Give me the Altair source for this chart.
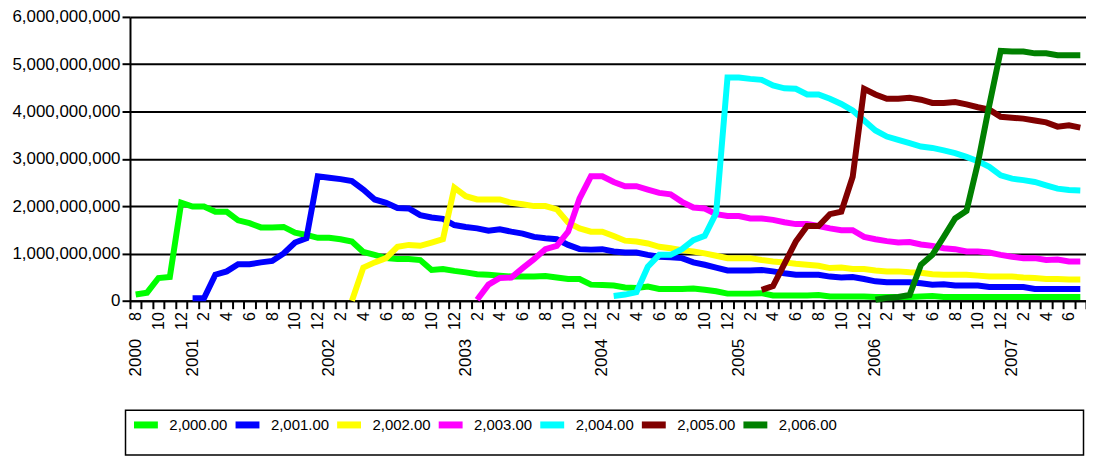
import altair as alt
import pandas as pd

# ---- data (values read in billions) ----
SCALE = 1e9
series_names = ["2,000.00", "2,001.00", "2,002.00", "2,003.00", "2,004.00", "2,005.00", "2,006.00"]
series_colors = ["#00FF00", "#0000FF", "#FFFF00", "#FF00FF", "#00FFFF", "#800000", "#008000"]
series_start = [0, 5, 19, 30, 42, 55, 65]  # month index (0 = Aug 2000)

s2000 = [0.13, 0.17, 0.48, 0.50, 2.07, 1.99, 1.99, 1.88, 1.88, 1.70,
         1.64, 1.55, 1.55, 1.56, 1.44, 1.39, 1.33, 1.33, 1.30, 1.25,
         1.03, 0.97, 0.90, 0.88, 0.88, 0.86, 0.65, 0.67, 0.63, 0.60,
         0.56, 0.55, 0.53, 0.51, 0.51, 0.51, 0.52, 0.49, 0.46, 0.46,
         0.34, 0.33, 0.32, 0.28, 0.27, 0.30, 0.25, 0.25, 0.25, 0.26,
         0.23, 0.20, 0.15, 0.15, 0.15, 0.16, 0.11, 0.11, 0.11, 0.11,
         0.12, 0.09, 0.09, 0.09, 0.09, 0.08, 0.08, 0.08, 0.08, 0.09,
         0.10, 0.08, 0.08, 0.08, 0.08, 0.08, 0.08, 0.08, 0.08, 0.08,
         0.08, 0.08, 0.08, 0.08]
s2001 = [0.05, 0.05, 0.55, 0.62, 0.77,
         0.77, 0.81, 0.84, 1.00, 1.23, 1.32, 2.63, 2.60, 2.57, 2.53,
         2.35, 2.14, 2.07, 1.96, 1.95, 1.81, 1.76, 1.73, 1.60, 1.56,
         1.53, 1.48, 1.51, 1.46, 1.42, 1.35, 1.32, 1.30, 1.18, 1.09,
         1.08, 1.09, 1.04, 1.02, 1.02, 0.97, 0.93, 0.92, 0.90, 0.81,
         0.76, 0.70, 0.64, 0.64, 0.64, 0.65, 0.62, 0.58, 0.55, 0.55,
         0.55, 0.51, 0.49, 0.50, 0.46, 0.41, 0.39, 0.39, 0.39, 0.37,
         0.34, 0.35, 0.32, 0.32, 0.32, 0.29, 0.29, 0.29, 0.29, 0.25,
         0.25, 0.25, 0.25, 0.25]
s2002 = [0.00,
         0.70, 0.81, 0.90, 1.14, 1.18, 1.16, 1.23, 1.30, 2.39, 2.21,
         2.14, 2.14, 2.14, 2.07, 2.04, 2.00, 2.00, 1.93, 1.65, 1.53,
         1.46, 1.46, 1.37, 1.27, 1.25, 1.21, 1.14, 1.11, 1.07, 1.04,
         1.00, 0.95, 0.90, 0.90, 0.90, 0.86, 0.83, 0.81, 0.78, 0.76,
         0.74, 0.69, 0.70, 0.67, 0.67, 0.64, 0.62, 0.62, 0.60, 0.59,
         0.56, 0.55, 0.55, 0.55, 0.53, 0.51, 0.51, 0.51, 0.49, 0.48,
         0.46, 0.46, 0.45, 0.45]
s2003 = [0.02, 0.34, 0.48, 0.49, 0.69, 0.88, 1.09, 1.16, 1.46, 2.16,
         2.63, 2.63, 2.51, 2.42, 2.42, 2.35, 2.28, 2.25, 2.09, 1.97,
         1.95, 1.83, 1.79, 1.79, 1.74, 1.74, 1.71, 1.66, 1.62, 1.62,
         1.58, 1.53, 1.49, 1.49, 1.35, 1.30, 1.26, 1.23, 1.24, 1.19,
         1.16, 1.11, 1.09, 1.04, 1.04, 1.02, 0.97, 0.93, 0.90, 0.90,
         0.86, 0.87, 0.83, 0.83]
s2004 = [0.10, 0.13, 0.18, 0.72, 0.97, 0.97, 1.09, 1.28,
         1.37, 1.85, 4.72, 4.72, 4.69, 4.67, 4.55, 4.49, 4.48, 4.36,
         4.36, 4.27, 4.16, 4.02, 3.81, 3.60, 3.47, 3.40, 3.33, 3.26,
         3.23, 3.18, 3.12, 3.04, 2.95, 2.83, 2.65, 2.58, 2.55, 2.51,
         2.44, 2.37, 2.34, 2.33]
s2005 = [0.23, 0.31, 0.78, 1.25, 1.58,
         1.58, 1.83, 1.88, 2.62, 4.48, 4.36, 4.27, 4.27, 4.29, 4.25,
         4.18, 4.18, 4.20, 4.15, 4.09, 4.04, 3.89, 3.87, 3.85, 3.81,
         3.77, 3.68, 3.71, 3.66]
s2006 = [0.02, 0.06, 0.08, 0.12, 0.76,
         0.97, 1.35, 1.74, 1.90, 2.91, 4.13, 5.28, 5.27, 5.27, 5.23,
         5.23, 5.19, 5.19, 5.19]
series_values = [s2000, s2001, s2002, s2003, s2004, s2005, s2006]

year_labels = ["2000", "2001", "2002", "2003", "2004", "2005", "2006", "2007"]
year_index = [0, 5, 17, 29, 41, 53, 65, 77]

N_MONTHS = 84
y_ticks = [0, 1e9, 2e9, 3e9, 4e9, 5e9, 6e9]

rows = []
for name, start, vals in zip(series_names, series_start, series_values):
    for k, v in enumerate(vals):
        rows.append({"series": name, "idx": start + k, "value": v * SCALE})
df = pd.DataFrame(rows)
years_df = pd.DataFrame({"idx": year_index, "year": year_labels})

W, H = 960, 285
STEP = W / N_MONTHS
FONT = "Liberation Sans"

xscale = alt.Scale(domain=[-0.5, N_MONTHS - 0.5], nice=False, zero=False)
tick_vals = [i - 0.5 for i in range(N_MONTHS + 1)]
label_expr = ("round(datum.value + 0.5) > 83 ? '' : "
              "((round(datum.value + 0.5) + 7) % 12 + 1) % 2 == 0 ? "
              "'' + ((round(datum.value + 0.5) + 7) % 12 + 1) : ''")

lines = alt.Chart(df).mark_line(strokeWidth=6, clip=False).encode(
    x=alt.X("idx:Q", scale=xscale,
            axis=alt.Axis(values=tick_vals, tickCount=200, labelExpr=label_expr,
                          labelAngle=270, labelAlign="right", labelBaseline="middle",
                          labelOffset=STEP / 2, labelFlush=False, labelOverlap=False,
                          labelFontSize=16, labelPadding=3, labelColor="black",
                          tickSize=8, tickWidth=2, tickColor="black",
                          domainColor="black", domainWidth=2, grid=False, title=None)),
    y=alt.Y("value:Q", scale=alt.Scale(domain=[0, 6e9], nice=False),
            axis=alt.Axis(values=y_ticks, format=",d", grid=True, gridColor="black",
                          gridWidth=2, domainColor="black", domainWidth=2,
                          tickColor="black", tickWidth=2, tickSize=8,
                          labelFontSize=17, labelColor="black", labelPadding=2,
                          title=None)),
    color=alt.Color("series:N",
                    scale=alt.Scale(domain=series_names, range=series_colors),
                    legend=alt.Legend(orient="none", legendX=0.5, legendY=394,
                                      direction="horizontal", columns=7, title=None,
                                      symbolType="stroke", symbolStrokeWidth=7,
                                      symbolSize=576, labelFontSize=15,
                                      labelFont=FONT, labelColor="black",
                                      labelOffset=8, columnPadding=-7, padding=0)),
)

years = alt.Chart(years_df).mark_text(angle=270, align="left", baseline="middle",
                                      fontSize=17, font=FONT, color="black").encode(
    x=alt.X("idx:Q", scale=xscale),
    y=alt.value(H + 76),
    text="year:N",
)

box = alt.Chart(pd.DataFrame({"k": [0]})).mark_rect(
    fillOpacity=0, stroke="black", strokeWidth=1.5).encode(
    x=alt.value(-4.5), x2=alt.value(957.5), y=alt.value(395), y2=alt.value(440)
)

chart = alt.layer(box, lines, years).properties(
    width=W, height=H,
    padding={"left": 122.5, "top": 8, "right": 0, "bottom": 157},
    autosize=alt.AutoSizeParams(type="none"),
).configure_view(stroke=None).configure_axis(labelFont=FONT)

chart.save("out.html", embed_options={"renderer": "svg", "actions": False})
